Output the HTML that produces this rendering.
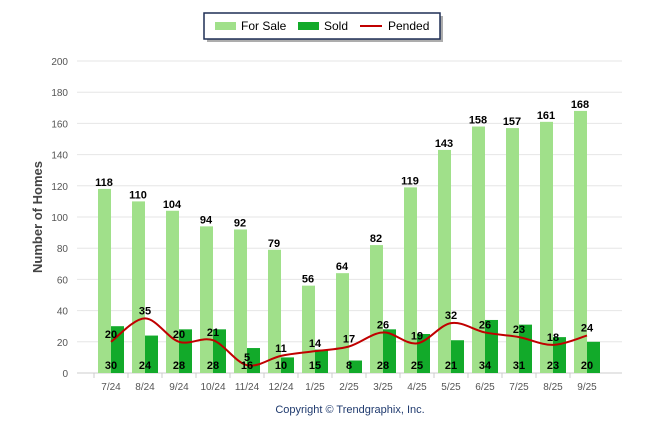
<!DOCTYPE html>
<html><head><meta charset="utf-8"><style>
body{margin:0;background:#fff;}
svg{display:block;font-family:"Liberation Sans",sans-serif;}
</style></head><body>
<svg id="c" width="646" height="434">
<g>
<rect x="207" y="16" width="236" height="26" fill="#777" opacity="0.6"/>
<rect x="204" y="13" width="236" height="26" fill="#fff" stroke="#1f2f55" stroke-width="1.5"/>
<rect x="215" y="22" width="21" height="8" fill="#a0e08a"/>
<text x="241" y="30" font-size="12">For Sale</text>
<rect x="298" y="22" width="21" height="8" fill="#12aa2a"/>
<text x="324" y="30" font-size="12">Sold</text>
<line x1="360" y1="26" x2="382" y2="26" stroke="#c00000" stroke-width="2"/>
<text x="388" y="30" font-size="12">Pended</text>
</g>
<g id="grid"></g><g id="bars"></g><g id="line"></g><g id="labels"></g>
<text transform="translate(42,217) rotate(-90)" text-anchor="middle" font-size="13" font-weight="bold" fill="#444">Number of Homes</text>
<text x="350" y="413" text-anchor="middle" font-size="11" fill="#1f3a6e">Copyright © Trendgraphix, Inc.</text>
</svg>
<script>
const categories=["7/24","8/24","9/24","10/24","11/24","12/24","1/25","2/25","3/25","4/25","5/25","6/25","7/25","8/25","9/25"];
const forSale=[118,110,104,94,92,79,56,64,82,119,143,158,157,161,168];
const sold=[30,24,28,28,16,10,15,8,28,25,21,34,31,23,20];
const pended=[20,35,20,21,5,11,14,17,26,19,32,26,23,18,24];
const yTicks=[0,20,40,60,80,100,120,140,160,180,200];
const NS="http://www.w3.org/2000/svg";
const y=v=>373-v*1.56;
const xc=i=>111+i*34;
function mk(t,a,p){const e=document.createElementNS(NS,t);for(const k in a)e.setAttribute(k,a[k]);document.getElementById(p).appendChild(e);return e;}
yTicks.forEach(t=>{
 const l=mk('line',{x1:77,x2:622,y1:y(t),y2:y(t),stroke:t?'#e6e6e6':'#ccc'},'grid');
 
 
 const tx=mk('text',{x:68,y:y(t)+4,'text-anchor':'end','font-size':10,fill:'#555'},'grid');tx.textContent=t;
 
 
});
categories.forEach((c,i)=>{
 const tk=mk('line',{x1:xc(i)-17,x2:xc(i)-17,y1:373,y2:378,stroke:'#ccc'},'grid');
 
 
 const t=mk('text',{x:xc(i),y:390,'text-anchor':'middle','font-size':10,fill:'#555'},'grid');t.textContent=c;
 
 
 const b1=mk('rect',{x:xc(i)-13,y:y(forSale[i]),width:13,height:forSale[i]*1.56,fill:'#a0e08a'},'bars');
 
 
 const b2=mk('rect',{x:xc(i),y:y(sold[i]),width:13,height:sold[i]*1.56,fill:'#12aa2a'},'bars');
 
 
 const l1=mk('text',{x:xc(i)-7,y:y(forSale[i])-3,'text-anchor':'middle','font-size':11,'font-weight':'bold'},'labels');l1.textContent=forSale[i];
 
 
 const l2=mk('text',{x:xc(i),y:369,'text-anchor':'middle','font-size':11,'font-weight':'bold'},'labels');l2.textContent=sold[i];
 
 
 const l3=mk('text',{x:xc(i),y:y(pended[i])-4,'text-anchor':'middle','font-size':11,'font-weight':'bold'},'labels');l3.textContent=pended[i];
 
 
});
const pts=pended.map((v,i)=>[xc(i),y(v)]);
let d=`M${pts[0][0]},${pts[0][1]}`;
for(let i=0;i<pts.length-1;i++){
 const p0=pts[Math.max(0,i-1)],p1=pts[i],p2=pts[i+1],p3=pts[Math.min(pts.length-1,i+2)];
 const c1=[p1[0]+(p2[0]-p0[0])/6,p1[1]+(p2[1]-p0[1])/6],c2=[p2[0]-(p3[0]-p1[0])/6,p2[1]-(p3[1]-p1[1])/6];
 d+=` C${c1[0]},${c1[1]} ${c2[0]},${c2[1]} ${p2[0]},${p2[1]}`;
}
const pl=mk('path',{d:d,fill:'none',stroke:'#c00000','stroke-width':2},'line');


</script>
</body></html>
